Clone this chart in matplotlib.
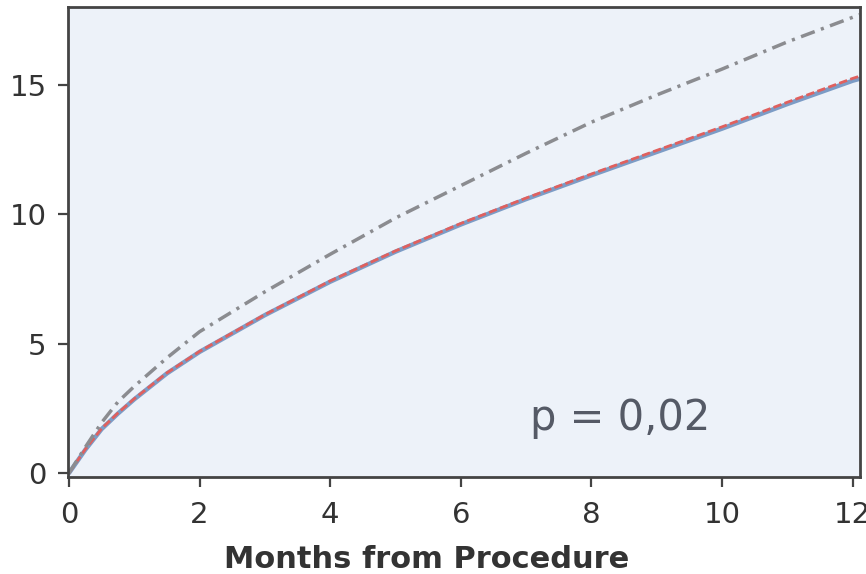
import matplotlib
matplotlib.use("Agg")
import matplotlib.pyplot as plt

# cumulative incidence curves
months = [0, 0.25, 0.5, 0.75, 1.0, 1.5, 2.0, 3.0, 4.0, 5.0, 6.0, 7.0, 8.0, 9.0, 10.0, 11.0, 12.0, 12.1]
solid = [0, 0.9, 1.7, 2.3, 2.85, 3.85, 4.68, 6.1, 7.39, 8.55, 9.6, 10.58, 11.5, 12.4, 13.3, 14.25, 15.15, 15.22]
red_dash = [0, 0.92, 1.72, 2.32, 2.87, 3.87, 4.7, 6.12, 7.42, 8.58, 9.64, 10.62, 11.55, 12.46, 13.37, 14.32, 15.24, 15.32]
grey_dashdot = [0, 1.0, 1.95, 2.75, 3.35, 4.45, 5.46, 7.0, 8.45, 9.85, 11.1, 12.35, 13.55, 14.6, 15.6, 16.65, 17.6, 17.7]

xticks = [0, 2, 4, 6, 8, 10, 12]
yticks = [0, 5, 10, 15]
p_text = "p = 0,02"
xlabel = "Months from Procedure"

fig = plt.figure(figsize=(8.66, 5.74), dpi=100)
ax = fig.add_axes([0.0785, 0.169, 0.9145, 0.819])
ax.set_facecolor("#edf2f9")

ax.plot(months, solid, color="#7c9cc6", lw=3.2, solid_capstyle="round")
ax.plot(months, red_dash, color="#e0605e", lw=2.0, ls=(0, (3, 1.2)))
ax.plot(months, grey_dashdot, color="#8b8c90", lw=2.5, ls=(0, (4.2, 1.9, 0.9, 1.9)))

ax.set_xlim(-0.015, 12.11)
ax.set_ylim(-0.15, 18.0)
ax.set_xticks(xticks)
ax.set_yticks(yticks)
ax.tick_params(direction="out", length=7, width=1.6, color="#444444",
               labelcolor="#333333", labelsize=21)
ax.tick_params(axis="x", pad=10.5)
ax.tick_params(axis="y", pad=8.5)
for sp in ax.spines.values():
    sp.set_color("#444444")
    sp.set_linewidth(2.0)

ax.text(7.06, 1.66, p_text, fontsize=30, color="#555a66", va="baseline", ha="left")
ax.set_xlabel(xlabel, fontsize=22, fontweight="bold", color="#333333")
ax.xaxis.set_label_coords(0.453, -0.145)

fig.savefig("out.png", dpi=100)
